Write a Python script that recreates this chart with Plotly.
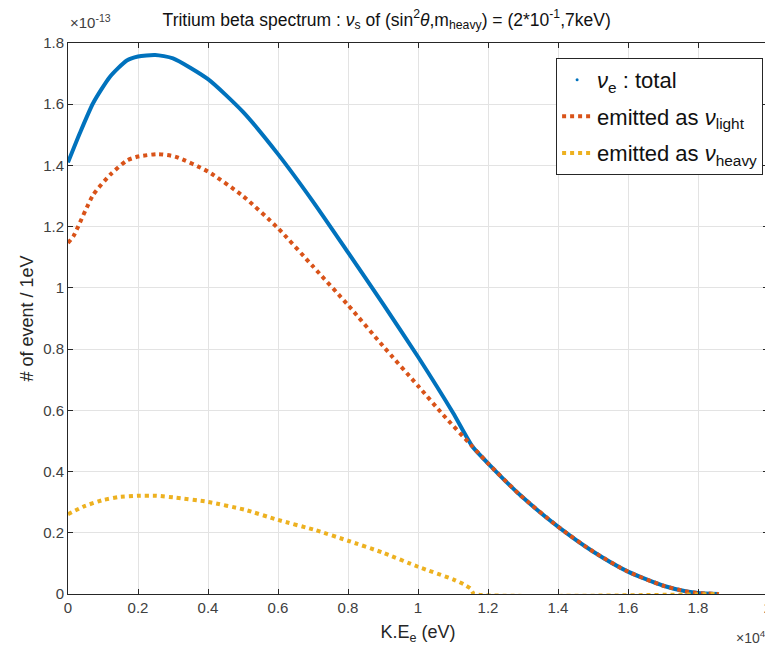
import numpy as np
import plotly.graph_objects as go

# kinetic energy of the electron (eV) and event rates (units of 1e-13 per eV)
e_total = [0, 340, 720, 1200, 1680, 2000, 2490, 3000, 4000, 5000, 6000, 7000, 8000, 9000,
           10000, 11000, 11560, 12000, 12910, 14000, 15010, 16000, 17010, 17680, 18000, 18600]
n_total = [1.41, 1.506, 1.604, 1.69, 1.743, 1.756, 1.761, 1.75, 1.682, 1.575, 1.437, 1.282,
           1.116, 0.948, 0.775, 0.592, 0.481, 0.427, 0.324, 0.22, 0.138, 0.073, 0.027, 0.008,
           0.003, 0.0]

e_light = [0, 150, 720, 1200, 1680, 2000, 2580, 3060, 4000, 5000, 6000, 7000, 8000, 9000,
           10000, 10720, 11560, 12000, 12910, 14000, 15010, 16000, 17010, 17680, 18000, 18600]
n_light = [1.147, 1.168, 1.304, 1.369, 1.416, 1.429, 1.437, 1.429, 1.38, 1.30, 1.195, 1.07,
           0.944, 0.81, 0.68, 0.585, 0.481, 0.427, 0.324, 0.22, 0.138, 0.073, 0.027, 0.008,
           0.003, 0.0]

e_heavy = [0, 490, 1000, 1460, 2000, 2530, 3060, 4000, 5060, 6000, 7060, 8000, 9000, 10000,
           11000, 11300, 11500, 11600, 18600]
n_heavy = [0.261, 0.288, 0.307, 0.317, 0.321, 0.321, 0.315, 0.301, 0.275, 0.242, 0.209, 0.174,
           0.135, 0.089, 0.048, 0.032, 0.018, 0.0, 0.0]

x_ticks = [0, 2000, 4000, 6000, 8000, 10000, 12000, 14000, 16000, 18000, 20000]
x_labels = ['0', '0.2', '0.4', '0.6', '0.8', '1', '1.2', '1.4', '1.6', '1.8', '2']
y_ticks = [0, 0.2, 0.4, 0.6, 0.8, 1.0, 1.2, 1.4, 1.6, 1.8]
y_labels = ['0', '0.2', '0.4', '0.6', '0.8', '1', '1.2', '1.4', '1.6', '1.8']

scale = 1e-13
blue, red, yellow = '#0072BD', '#D95319', '#EDB120'
axcol = '#262626'
font = 'Liberation Sans, Arial, Helvetica, sans-serif'
dots = '4px,4px'

fig = go.Figure()
fig.add_trace(go.Scatter(x=e_total, y=np.array(n_total) * scale, mode='lines',
                         line=dict(color=blue, width=4, shape='spline', smoothing=0.6),
                         showlegend=False))
fig.add_trace(go.Scatter(x=e_light, y=np.array(n_light) * scale, mode='lines',
                         line=dict(color=red, width=4, dash=dots, shape='spline', smoothing=0.6),
                         showlegend=False))
fig.add_trace(go.Scatter(x=e_heavy, y=np.array(n_heavy) * scale, mode='lines',
                         line=dict(color=yellow, width=4, dash=dots, shape='spline', smoothing=0.4),
                         showlegend=False))

# legend-only entries (MATLAB style: dot marker for total, dotted lines for the parts)
fig.add_trace(go.Scatter(x=[None], y=[None], mode='markers', legendgroup='a',
                         marker=dict(color=blue, size=3),
                         name='<i>ν</i><sub>e</sub> : total'))
fig.add_trace(go.Scatter(x=[None], y=[None], mode='lines', legendgroup='b',
                         line=dict(color=red, width=4, dash=dots),
                         name='emitted as <i>ν</i><sub>light</sub>'))
fig.add_trace(go.Scatter(x=[None], y=[None], mode='lines', legendgroup='c',
                         line=dict(color=yellow, width=4, dash=dots),
                         name='emitted as <i>ν</i><sub>heavy</sub>'))

axis_common = dict(showline=True, linecolor=axcol, linewidth=1, mirror='ticks',
                   ticks='inside', ticklen=5, tickcolor=axcol, showgrid=True,
                   gridcolor='#e3e3e3', gridwidth=1, zeroline=False, automargin=False,
                   tickfont=dict(size=15, color='#404040', family=font))

fig.update_xaxes(range=[0, 20000], tickvals=x_ticks, ticktext=x_labels,
                 title=dict(text='K.E<sub>e</sub> (eV)', font=dict(size=18, color=axcol),
                            standoff=10),
                 **axis_common)
fig.update_yaxes(range=[0, 1.8e-13], tickvals=[v * scale for v in y_ticks], ticktext=y_labels,
                 title=dict(text='# of event / 1eV', font=dict(size=18, color=axcol),
                            standoff=4),
                 **axis_common)

fig.add_annotation(text='×10<sup>-13</sup>', xref='paper', yref='paper', x=0, y=1,
                   xanchor='left', yanchor='bottom', showarrow=False, yshift=10,
                   font=dict(size=15, color='#404040'))
fig.add_annotation(text='×10<sup>4</sup>', xref='paper', yref='paper', x=1, y=0,
                   xanchor='right', yanchor='top', showarrow=False, yshift=-32, xshift=0,
                   font=dict(size=14, color='#404040'))

# the page body adds an 8px offset, so the figure is sized to fit inside the window
fig.update_layout(
    width=765, height=642,
    margin=dict(l=60, r=5, t=35, b=56),
    paper_bgcolor='white', plot_bgcolor='white',
    font=dict(family=font, color=axcol),
    title=dict(text='Tritium beta spectrum : <i>ν</i><sub>s</sub> of (sin<sup>2</sup><i>θ</i>,'
                    'm<sub>heavy</sub>) = (2*10<sup>-1</sup>,7keV)',
               x=0.495, xanchor='center', y=0.982, yanchor='middle',
               font=dict(size=17.5, color='#111111')),
    legend=dict(x=0.993, y=0.973, xanchor='right', yanchor='top',
                bordercolor=axcol, borderwidth=1, bgcolor='white',
                font=dict(size=22, color='#111111'), tracegroupgap=5,
                itemwidth=30),
)

fig.write_html("out.html")
